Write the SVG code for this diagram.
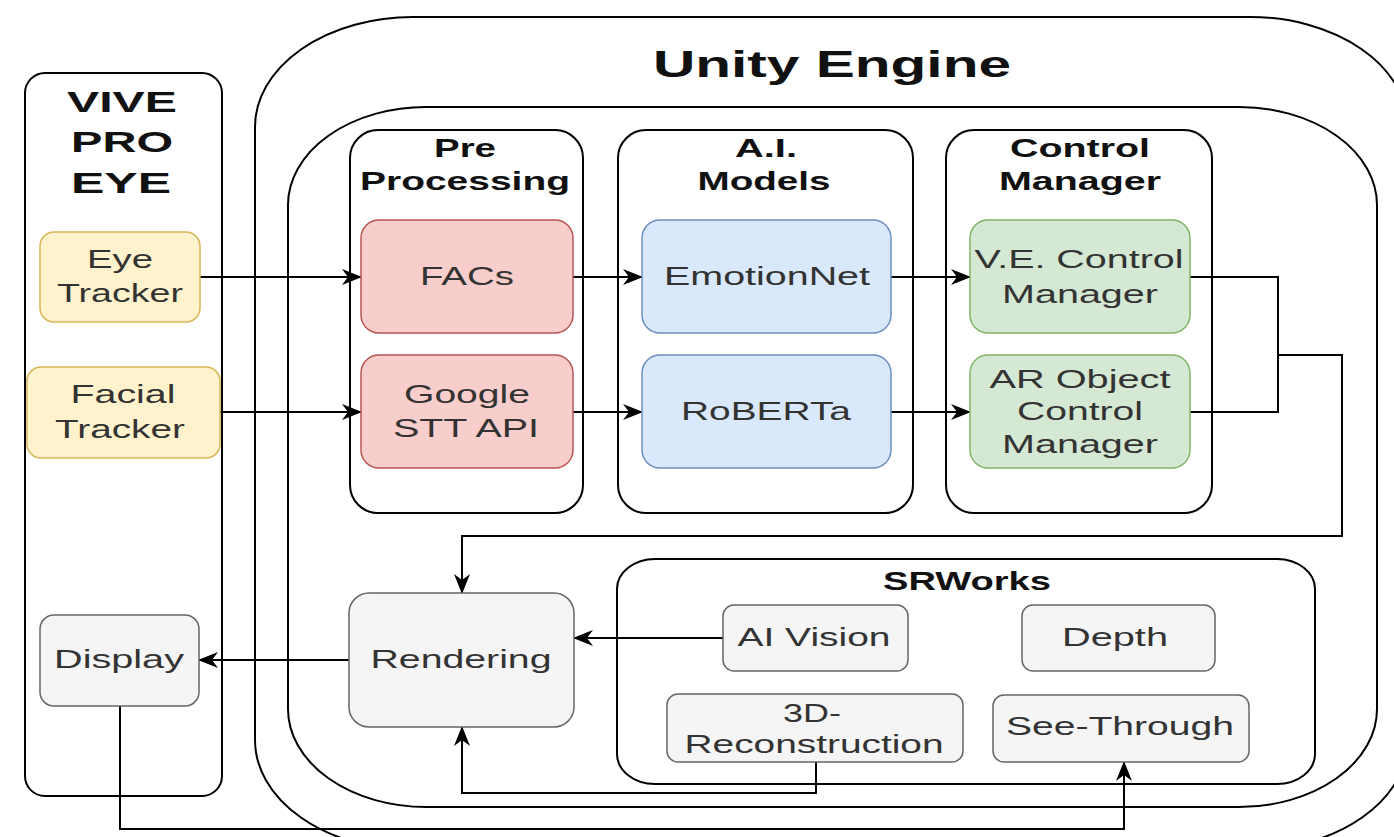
<svg xmlns="http://www.w3.org/2000/svg" width="1394" height="837" viewBox="0 0 1394 837">
<defs>
<style>
.ct{fill:#ffffff;stroke:#000;stroke-width:2}
.title{font-family:"Liberation Sans",Arial,sans-serif;font-weight:bold;fill:#111;text-anchor:middle}
.lbl{font-family:"Liberation Sans",Arial,sans-serif;font-size:25px;fill:#333;text-anchor:middle}
.yel{fill:#fff2cc;stroke:#d6b656;stroke-width:1.5}
.red{fill:#f8cecc;stroke:#b85450;stroke-width:1.5}
.blu{fill:#dae8fc;stroke:#6c8ebf;stroke-width:1.5}
.grn{fill:#d5e8d4;stroke:#82b366;stroke-width:1.5}
.gry{fill:#f5f5f5;stroke:#666;stroke-width:1.5}
.edge{fill:none;stroke:#000;stroke-width:2}
</style>
<marker id="arr" markerUnits="userSpaceOnUse" viewBox="0 0 20 16" markerWidth="20" markerHeight="16" refX="19" refY="8" orient="auto" overflow="visible">
<path d="M0,0 L20,8 L0,16 L6,8 z" fill="#000"/>
</marker>
</defs>
<rect width="1394" height="837" fill="#fff"/>

<g id="unity-outer">
<rect class="ct" x="255" y="17" width="1153" height="833" rx="158" ry="110"/>
<text class="title" x="832" y="77" font-size="37" textLength="358" lengthAdjust="spacingAndGlyphs">Unity Engine</text>
</g>
<g id="unity-inner">
<rect class="ct" x="288" y="107" width="1089" height="700" rx="138" ry="98"/>
</g>
<g id="vive">
<rect class="ct" x="25" y="73" width="197" height="723" rx="20" ry="20"/>
<text class="title" font-size="30" x="122" y="112" textLength="110" lengthAdjust="spacingAndGlyphs">VIVE</text>
<text class="title" font-size="30" x="122" y="152" textLength="102" lengthAdjust="spacingAndGlyphs">PRO</text>
<text class="title" font-size="30" x="121" y="193" textLength="100" lengthAdjust="spacingAndGlyphs">EYE</text>
</g>
<g id="preprocessing">
<rect class="ct" x="350" y="130" width="233" height="383" rx="28" ry="28"/>
<text class="title" font-size="25" x="465" y="157" textLength="62" lengthAdjust="spacingAndGlyphs">Pre</text>
<text class="title" font-size="25" x="465" y="190" textLength="210" lengthAdjust="spacingAndGlyphs">Processing</text>
</g>
<g id="ai-models">
<rect class="ct" x="618" y="130" width="295" height="383" rx="28" ry="28"/>
<text class="title" font-size="25" x="766" y="157" textLength="62" lengthAdjust="spacingAndGlyphs">A.I.</text>
<text class="title" font-size="25" x="764" y="190" textLength="133" lengthAdjust="spacingAndGlyphs">Models</text>
</g>
<g id="control-manager">
<rect class="ct" x="946" y="130" width="266" height="383" rx="28" ry="28"/>
<text class="title" font-size="25" x="1080" y="157" textLength="140" lengthAdjust="spacingAndGlyphs">Control</text>
<text class="title" font-size="25" x="1080" y="190" textLength="162" lengthAdjust="spacingAndGlyphs">Manager</text>
</g>
<g id="srworks">
<rect class="ct" x="617" y="559" width="698" height="225" rx="38" ry="30"/>
<text class="title" font-size="25" x="967" y="590" textLength="168" lengthAdjust="spacingAndGlyphs">SRWorks</text>
</g>

<g id="connectors">
<path class="edge" d="M200,277 H361" marker-end="url(#arr)"/>
<path class="edge" d="M220,412 H361" marker-end="url(#arr)"/>
<path class="edge" d="M573,277 H642" marker-end="url(#arr)"/>
<path class="edge" d="M573,412 H642" marker-end="url(#arr)"/>
<path class="edge" d="M891,277 H970" marker-end="url(#arr)"/>
<path class="edge" d="M891,412 H970" marker-end="url(#arr)"/>
<path class="edge" d="M1190,277 H1278 V412 H1190"/>
<path class="edge" d="M1278,355 H1342 V536 H462 V593" marker-end="url(#arr)"/>
<path class="edge" d="M349,660 H199" marker-end="url(#arr)"/>
<path class="edge" d="M723,638 H574" marker-end="url(#arr)"/>
<path class="edge" d="M816,762 V793 H462 V727" marker-end="url(#arr)"/>
<path class="edge" d="M120,706 V829 H1124 V762" marker-end="url(#arr)"/>
</g>

<g id="eye-tracker">
<rect class="yel" x="40" y="232" width="160" height="90" rx="14"/>
<text class="lbl" x="120" y="268" textLength="66" lengthAdjust="spacingAndGlyphs">Eye</text>
<text class="lbl" x="120" y="302" textLength="126" lengthAdjust="spacingAndGlyphs">Tracker</text>
</g>
<g id="facial-tracker">
<rect class="yel" x="27" y="367" width="193" height="91" rx="14"/>
<text class="lbl" x="123" y="403" textLength="105" lengthAdjust="spacingAndGlyphs">Facial</text>
<text class="lbl" x="120" y="438" textLength="130" lengthAdjust="spacingAndGlyphs">Tracker</text>
</g>
<g id="display">
<rect class="gry" x="40" y="615" width="159" height="91" rx="14"/>
<text class="lbl" x="119" y="668" textLength="130" lengthAdjust="spacingAndGlyphs">Display</text>
</g>
<g id="facs">
<rect class="red" x="361" y="220" width="212" height="113" rx="18"/>
<text class="lbl" x="467" y="285" textLength="94" lengthAdjust="spacingAndGlyphs">FACs</text>
</g>
<g id="google-stt">
<rect class="red" x="361" y="355" width="212" height="113" rx="18"/>
<text class="lbl" x="467" y="403" textLength="126" lengthAdjust="spacingAndGlyphs">Google</text>
<text class="lbl" x="466" y="437" textLength="146" lengthAdjust="spacingAndGlyphs">STT API</text>
</g>
<g id="emotionnet">
<rect class="blu" x="642" y="220" width="249" height="113" rx="18"/>
<text class="lbl" x="767" y="285" textLength="206" lengthAdjust="spacingAndGlyphs">EmotionNet</text>
</g>
<g id="roberta">
<rect class="blu" x="642" y="355" width="249" height="113" rx="18"/>
<text class="lbl" x="766" y="420" textLength="170" lengthAdjust="spacingAndGlyphs">RoBERTa</text>
</g>
<g id="ve-control">
<rect class="grn" x="970" y="220" width="220" height="113" rx="18"/>
<text class="lbl" x="1079" y="268" textLength="209" lengthAdjust="spacingAndGlyphs">V.E. Control</text>
<text class="lbl" x="1080" y="303" textLength="156" lengthAdjust="spacingAndGlyphs">Manager</text>
</g>
<g id="ar-control">
<rect class="grn" x="970" y="355" width="220" height="113" rx="18"/>
<text class="lbl" x="1080" y="388" textLength="181" lengthAdjust="spacingAndGlyphs">AR Object</text>
<text class="lbl" x="1080" y="420" textLength="126" lengthAdjust="spacingAndGlyphs">Control</text>
<text class="lbl" x="1080" y="453" textLength="156" lengthAdjust="spacingAndGlyphs">Manager</text>
</g>
<g id="rendering">
<rect class="gry" x="349" y="593" width="225" height="134" rx="20"/>
<text class="lbl" x="461" y="668" textLength="181" lengthAdjust="spacingAndGlyphs">Rendering</text>
</g>
<g id="ai-vision">
<rect class="gry" x="723" y="605" width="185" height="66" rx="11"/>
<text class="lbl" x="814" y="646" textLength="153" lengthAdjust="spacingAndGlyphs">AI Vision</text>
</g>
<g id="depth">
<rect class="gry" x="1022" y="605" width="193" height="66" rx="11"/>
<text class="lbl" x="1115" y="646" textLength="106" lengthAdjust="spacingAndGlyphs">Depth</text>
</g>
<g id="reconstruction">
<rect class="gry" x="667" y="694" width="296" height="68" rx="11"/>
<text class="lbl" x="812" y="722" textLength="58" lengthAdjust="spacingAndGlyphs">3D-</text>
<text class="lbl" x="814" y="753" textLength="259" lengthAdjust="spacingAndGlyphs">Reconstruction</text>
</g>
<g id="see-through">
<rect class="gry" x="993" y="695" width="256" height="67" rx="11"/>
<text class="lbl" x="1120" y="735" textLength="228" lengthAdjust="spacingAndGlyphs">See-Through</text>
</g>
</svg>
